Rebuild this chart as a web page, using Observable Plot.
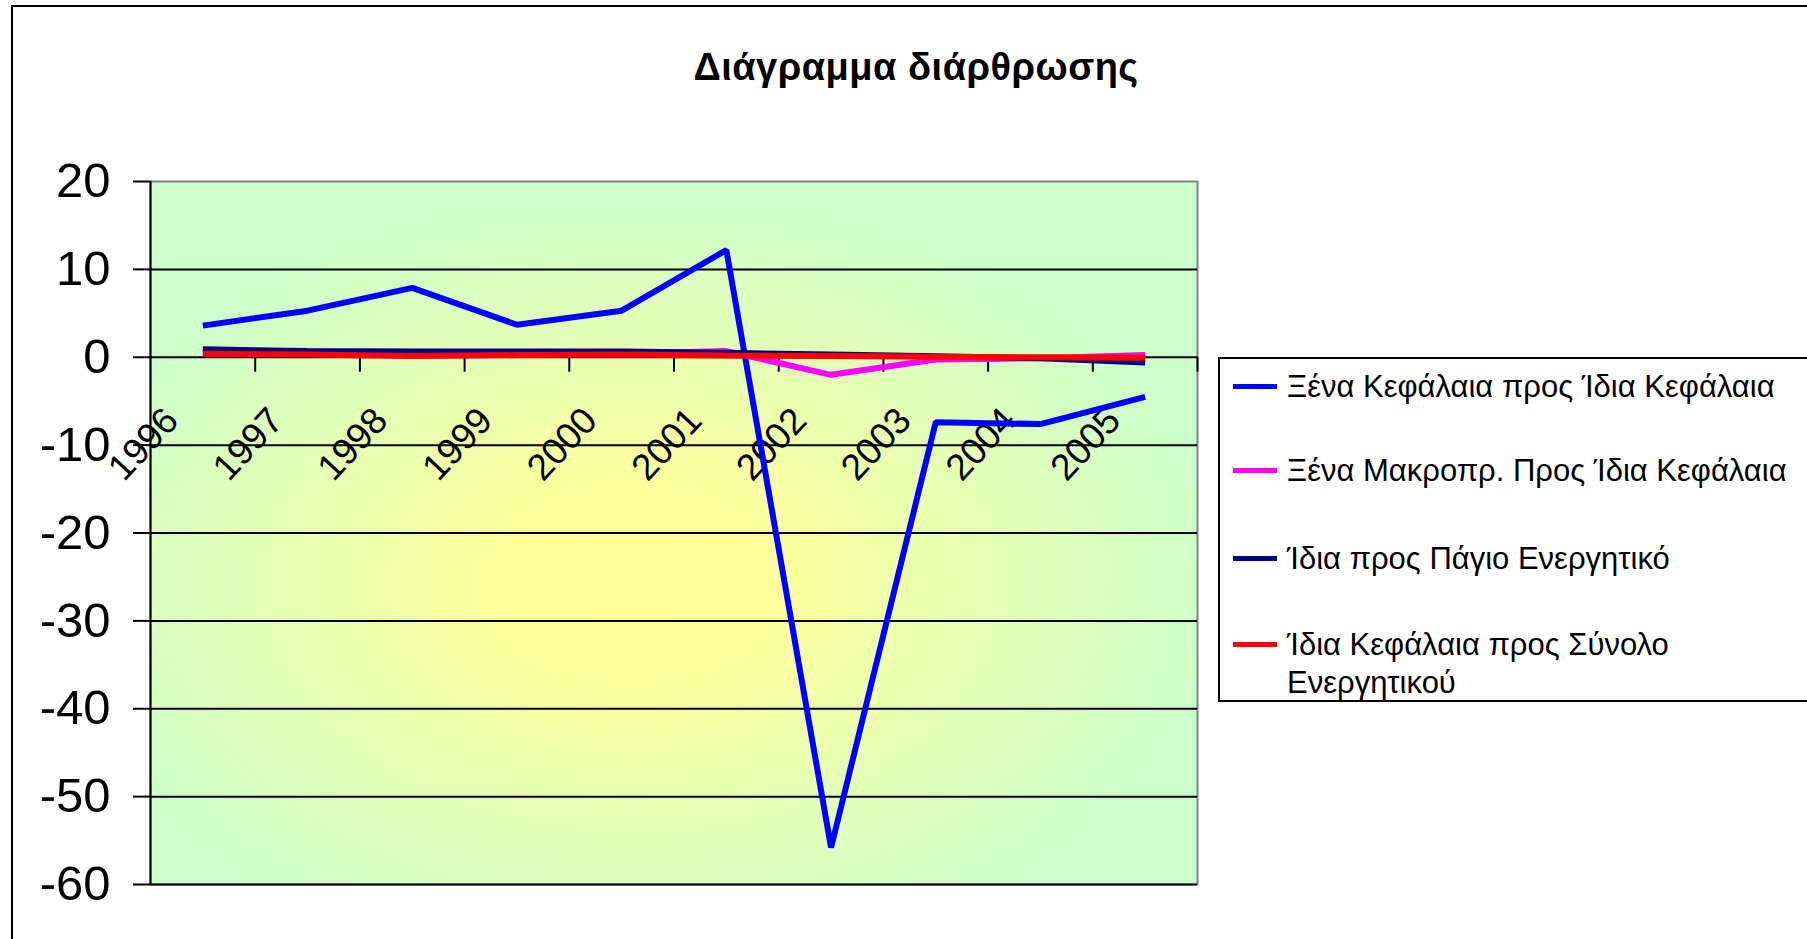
<!DOCTYPE html>
<html>
<head>
<meta charset="utf-8">
<script src="https://cdn.jsdelivr.net/npm/d3@7"></script>
<script src="https://cdn.jsdelivr.net/npm/@observablehq/plot@0.6"></script>
<style>
  html, body { margin: 0; padding: 0; background: #fff; overflow: hidden; }
  #wrap { position: relative; width: 1807px; height: 939px; font-family: "Liberation Sans", Arial, sans-serif; color: #000; }
  #chart { position: absolute; left: 0; top: 0; }
  #outer { position: absolute; left: 11px; top: 5px; width: 1900px; height: 1000px; border-left: 2px solid #000; border-top: 2px solid #000; }
  #title { position: absolute; left: 0; width: 1832px; top: 48px; text-align: center; font-weight: bold; font-size: 38px; line-height: 38px; letter-spacing: 0.5px; white-space: nowrap; }
  #legendBox { position: absolute; left: 1218px; top: 357px; width: 590px; height: 341px; border: 2px solid #000; background: #fff; }
  .li { position: absolute; left: 1287px; font-size: 31px; line-height: 38px; white-space: nowrap; }
  .sw { position: absolute; left: 1233px; width: 44px; height: 5px; }
</style>
</head>
<body>
<div id="wrap">
  <div id="outer"></div>
  <div id="chart"></div>
  <div id="title"></div>
  <div id="legendBox"></div>
  <div id="legend"></div>
</div>
<script>
const chartTitle = "Διάγραμμα διάρθρωσης";
const years = [1996, 1997, 1998, 1999, 2000, 2001, 2002, 2003, 2004, 2005];
const seriesNames = [
  "Ξένα Κεφάλαια προς Ίδια Κεφάλαια",
  "Ξένα Μακροπρ. Προς Ίδια Κεφάλαια",
  "Ίδια προς Πάγιο Ενεργητικό",
  "Ίδια Κεφάλαια προς Σύνολο Ενεργητικού"
];
const legendLines = [
  ["Ξένα Κεφάλαια προς Ίδια Κεφάλαια"],
  ["Ξένα Μακροπρ. Προς Ίδια Κεφάλαια"],
  ["Ίδια προς Πάγιο Ενεργητικό"],
  ["Ίδια Κεφάλαια προς Σύνολο", "Ενεργητικού"]
];
const seriesColors = ["#0000FF", "#FF00FF", "#000080", "#FF0000"];

const xenaProsIdia   = [3.6, 5.3, 7.9, 3.7, 5.3, 12.2, -55.8, -7.4, -7.6, -4.5];
const makroProsIdia  = [0.5, 0.4, 0.3, 0.4, 0.4, 0.7, -2.0, -0.25, -0.1, 0.25];
const idiaProsPagio  = [0.9, 0.7, 0.65, 0.65, 0.65, 0.5, 0.3, 0.1, -0.1, -0.6];
const idiaProsSynolo = [0.4, 0.3, 0.15, 0.25, 0.3, 0.2, 0.15, 0.05, 0.0, -0.05];

const yTicks = [20, 10, 0, -10, -20, -30, -40, -50, -60];
const gridValues = [10, 0, -10, -20, -30, -40, -50, -60];

const seriesValues = [xenaProsIdia, makroProsIdia, idiaProsPagio, idiaProsSynolo];
const rows = seriesNames.flatMap((name, si) =>
  years.map((yr, i) => ({series: name, year: yr, value: seriesValues[si][i]}))
);
const boundaries = years.map(y => y + 0.5);

document.getElementById("title").textContent = chartTitle;

const plot = Plot.plot({
  width: 1807,
  height: 939,
  marginLeft: 150,
  marginRight: 610,
  marginTop: 181,
  marginBottom: 55,
  style: {fontFamily: '"Liberation Sans", Arial, sans-serif', background: "transparent", overflow: "visible", color: "#000"},
  x: {type: "linear", domain: [years[0] - 0.5, years[years.length - 1] + 0.5], axis: null},
  y: {domain: [-60, 20], axis: null},
  color: {domain: seriesNames, range: seriesColors},
  marks: [
    Plot.frame({fill: "url(#plotBg)", stroke: "#808080", strokeWidth: 2}),
    Plot.ruleY(gridValues, {stroke: "#000", strokeWidth: 2}),
    Plot.ruleX([years[0] - 0.5], {stroke: "#000", strokeWidth: 2}),
    Plot.ruleX(boundaries, {x: d => d, y1: 0, y2: 0, insetBottom: -15, stroke: "#000", strokeWidth: 2}),
    Plot.axisY(yTicks, {anchor: "left", label: null, tickFormat: d => String(d), tickSize: 17, tickPadding: 23, fontSize: 49, stroke: "#000", strokeWidth: 2}),
    Plot.text(years, {x: d => d - 0.5, y: 0, text: d => String(d), rotate: -47, dx: -7, dy: 87, fontSize: 37, fill: "#000"}),
    ...seriesNames.map(name =>
      Plot.line(rows.filter(r => r.series === name), {
        x: "year", y: "value", stroke: "series",
        strokeWidth: 6, strokeLinejoin: "miter", strokeLinecap: "butt"
      })
    )
  ]
});

d3.select(plot).insert("defs", ":first-child").html(
  '<radialGradient id="plotBg" cx="0.46" cy="0.57" r="0.6">' +
  '<stop offset="0" stop-color="#FFFF99"/>' +
  '<stop offset="0.22" stop-color="#FDFF9B"/>' +
  '<stop offset="0.55" stop-color="#E6FFB3"/>' +
  '<stop offset="0.95" stop-color="#CCFFCC"/>' +
  '</radialGradient>'
);
document.getElementById("chart").appendChild(plot);

// legend
const rowCenters = [386, 470, 558, 644];
const legend = document.getElementById("legend");
legendLines.forEach((lines, i) => {
  const sw = document.createElement("div");
  sw.className = "sw";
  sw.style.top = (rowCenters[i] - 2.5) + "px";
  sw.style.background = seriesColors[i];
  legend.appendChild(sw);
  const t = document.createElement("div");
  t.className = "li";
  t.style.top = (rowCenters[i] - 18.3) + "px";
  t.innerHTML = lines.join("<br>");
  legend.appendChild(t);
});
</script>
</body>
</html>
